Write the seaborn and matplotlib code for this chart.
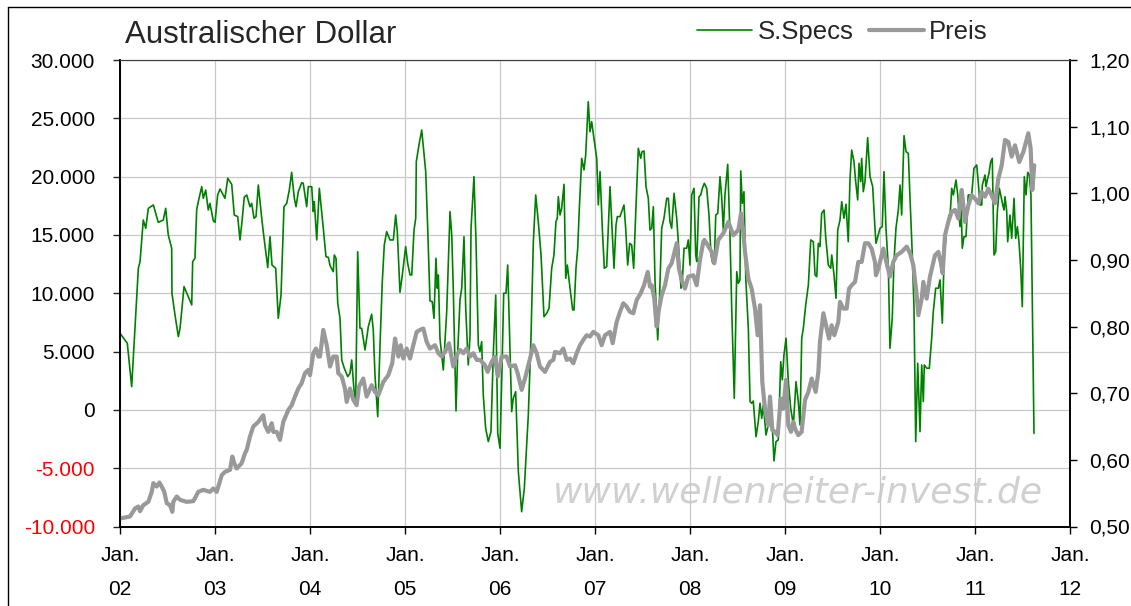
import pandas as pd
import seaborn as sns
import matplotlib.pyplot as plt
from matplotlib.lines import Line2D

# COT small speculators (S.Specs), time in decimal years
spec_t = [2002.000, 2002.077, 2002.123, 2002.193, 2002.211, 2002.245, 2002.271, 2002.298, 2002.351, 2002.403,
          2002.456, 2002.481, 2002.508, 2002.544, 2002.547, 2002.579, 2002.614, 2002.632, 2002.674, 2002.755,
          2002.765, 2002.789, 2002.807, 2002.824, 2002.860, 2002.877, 2002.902, 2002.929, 2002.947, 2002.982,
          2003.000, 2003.028, 2003.053, 2003.105, 2003.134, 2003.176, 2003.203, 2003.239, 2003.263, 2003.284,
          2003.308, 2003.334, 2003.368, 2003.386, 2003.411, 2003.432, 2003.456, 2003.492, 2003.508, 2003.555,
          2003.579, 2003.600, 2003.639, 2003.666, 2003.695, 2003.726, 2003.755, 2003.782, 2003.807, 2003.835,
          2003.853, 2003.877, 2003.913, 2003.929, 2003.965, 2003.982, 2004.018, 2004.035, 2004.045, 2004.071,
          2004.098, 2004.140, 2004.168, 2004.193, 2004.211, 2004.245, 2004.256, 2004.274, 2004.292, 2004.316,
          2004.334, 2004.361, 2004.397, 2004.421, 2004.439, 2004.463, 2004.481, 2004.502, 2004.526, 2004.544,
          2004.579, 2004.614, 2004.649, 2004.666, 2004.684, 2004.713, 2004.737, 2004.761, 2004.782, 2004.807,
          2004.842, 2004.877, 2004.902, 2004.919, 2004.947, 2004.972, 2005.007, 2005.028, 2005.053, 2005.071,
          2005.095, 2005.113, 2005.119, 2005.147, 2005.176, 2005.218, 2005.239, 2005.263, 2005.287, 2005.305,
          2005.326, 2005.340, 2005.351, 2005.368, 2005.403, 2005.439, 2005.474, 2005.492, 2005.508, 2005.537,
          2005.555, 2005.579, 2005.597, 2005.621, 2005.639, 2005.666, 2005.684, 2005.695, 2005.726, 2005.747,
          2005.772, 2005.789, 2005.807, 2005.824, 2005.849, 2005.877, 2005.905, 2005.929, 2005.955, 2005.976,
          2006.000, 2006.021, 2006.039, 2006.063, 2006.081, 2006.105, 2006.123, 2006.140, 2006.165, 2006.193,
          2006.228, 2006.256, 2006.298, 2006.326, 2006.351, 2006.376, 2006.403, 2006.432, 2006.463, 2006.492,
          2006.516, 2006.544, 2006.568, 2006.589, 2006.603, 2006.614, 2006.632, 2006.649, 2006.674, 2006.692,
          2006.709, 2006.737, 2006.765, 2006.779, 2006.800, 2006.818, 2006.835, 2006.860, 2006.884, 2006.902,
          2006.929, 2006.947, 2006.965, 2006.989, 2007.018, 2007.035, 2007.053, 2007.077, 2007.098, 2007.123,
          2007.158, 2007.176, 2007.200, 2007.221, 2007.235, 2007.263, 2007.281, 2007.305, 2007.323, 2007.344,
          2007.365, 2007.386, 2007.407, 2007.428, 2007.456, 2007.481, 2007.495, 2007.516, 2007.537, 2007.561,
          2007.579, 2007.597, 2007.614, 2007.632, 2007.660, 2007.677, 2007.702, 2007.726, 2007.755, 2007.772,
          2007.789, 2007.807, 2007.832, 2007.860, 2007.877, 2007.905, 2007.919, 2007.937, 2007.965, 2007.982,
          2008.000, 2008.018, 2008.042, 2008.060, 2008.071, 2008.095, 2008.113, 2008.130, 2008.151, 2008.176,
          2008.200, 2008.221, 2008.239, 2008.256, 2008.271, 2008.292, 2008.316, 2008.334, 2008.351, 2008.368,
          2008.397, 2008.421, 2008.439, 2008.466, 2008.492, 2008.509, 2008.526, 2008.534, 2008.551, 2008.568,
          2008.587, 2008.614, 2008.632, 2008.649, 2008.666, 2008.695, 2008.719, 2008.737, 2008.755, 2008.772,
          2008.800, 2008.824, 2008.849, 2008.866, 2008.884, 2008.905, 2008.929, 2008.955, 2008.972, 2008.989,
          2009.011, 2009.035, 2009.060, 2009.088, 2009.116, 2009.140, 2009.158, 2009.176, 2009.193, 2009.218,
          2009.246, 2009.271, 2009.298, 2009.316, 2009.334, 2009.351, 2009.368, 2009.386, 2009.411, 2009.428,
          2009.456, 2009.481, 2009.492, 2009.516, 2009.537, 2009.555, 2009.579, 2009.597, 2009.621, 2009.642,
          2009.666, 2009.684, 2009.702, 2009.726, 2009.744, 2009.765, 2009.779, 2009.797, 2009.807, 2009.824,
          2009.842, 2009.870, 2009.895, 2009.923, 2009.947, 2009.958, 2009.982, 2010.000, 2010.024, 2010.042,
          2010.063, 2010.088, 2010.105, 2010.129, 2010.147, 2010.168, 2010.193, 2010.211, 2010.228, 2010.253,
          2010.274, 2010.298, 2010.316, 2010.340, 2010.358, 2010.376, 2010.397, 2010.421, 2010.439, 2010.456,
          2010.466, 2010.492, 2010.519, 2010.544, 2010.561, 2010.586, 2010.614, 2010.632, 2010.656, 2010.674,
          2010.702, 2010.726, 2010.737, 2010.755, 2010.772, 2010.800, 2010.818, 2010.842, 2010.849, 2010.866,
          2010.884, 2010.905, 2010.929, 2010.965, 2010.989, 2011.018, 2011.035, 2011.053, 2011.071, 2011.077,
          2011.105, 2011.116, 2011.130, 2011.147, 2011.165, 2011.182, 2011.200, 2011.218, 2011.235, 2011.256,
          2011.271, 2011.292, 2011.305, 2011.316, 2011.334, 2011.344, 2011.368, 2011.386, 2011.411, 2011.428,
          2011.446, 2011.463, 2011.481, 2011.498, 2011.519, 2011.537, 2011.555, 2011.572, 2011.589, 2011.621]
spec_v = [6570, 5710, 1990, 12140, 12710, 16280, 15570, 17280, 17570, 16080,
          16280, 17280, 15000, 13860, 10000, 8140, 6280, 7000, 10570, 9000,
          12710, 13000, 17140, 17850, 19140, 18140, 18850, 17140, 17710, 16220,
          16080, 18430, 18940, 18140, 19860, 19340, 16710, 16570, 14570, 16140,
          18230, 18430, 17420, 17710, 16430, 16570, 19280, 16430, 15280, 12200,
          14850, 12420, 12140, 7850, 9850, 17420, 17710, 18850, 20370, 18140,
          17420, 18710, 19480, 19430, 17420, 19140, 19140, 17000, 17850, 14570,
          19000, 15570, 13140, 13080, 12370, 11850, 13280, 13000, 9140, 7850,
          4280, 3570, 2850, 3140, 4280, 1710, 710, 13560, 7000, 7000,
          5140, 7140, 8200, 6850, 2990, -580, 5570, 11000, 14140, 15280,
          14570, 14570, 16710, 15280, 10080, 11570, 14000, 12570, 11570, 11570,
          15420, 16430, 21280, 22710, 24000, 20430, 15570, 9340, 9280, 7850,
          13000, 10430, 11570, 6140, 3420, 8420, 17000, 15000, 10430, -90,
          4990, 9430, 10430, 14850, 8710, 3850, 6280, 15570, 20000, 14570,
          5570, 5000, 5850, 1280, -1580, -2720, -1870, 4710, 9850, -2000,
          -3290, 3500, 10000, 10000, 12420, 5280, -150, 990, 1560, -5300,
          -8730, -6720, -440, 6140, 14420, 18430, 16140, 13280, 7990, 8280,
          8710, 12140, 13280, 16140, 16430, 18280, 16710, 17280, 19340, 11280,
          12420, 10430, 8570, 8570, 12140, 13860, 17280, 21570, 20570, 21850,
          26430, 23850, 24710, 23280, 21570, 17570, 20430, 15570, 12140, 12280,
          19140, 16140, 12140, 15850, 16570, 16570, 17000, 17570, 15570, 12420,
          14280, 14140, 12140, 16710, 22430, 21570, 22140, 22200, 19140, 18140,
          15420, 15570, 17420, 10990, 6000, 9000, 15570, 16430, 18140, 18140,
          16140, 15570, 18570, 16430, 14420, 10430, 11000, 13860, 13860, 14570,
          12420, 18430, 19000, 13280, 12710, 18280, 18430, 19000, 19430, 19000,
          16710, 13280, 12570, 12710, 16710, 16850, 20000, 18140, 15420, 18430,
          21060, 15000, 8710, 990, 11850, 10850, 11140, 20490, 17710, 18710,
          11280, 7000, 710, 570, 760, -2300, -1010, 570, -720, 430,
          -2150, -1290, 140, -1300, -4380, -2720, -2580, 4130, 2570, 4710,
          6140, 2420, 140, -1290, 2420, 710, -1290, 6140, 7000, 9000,
          10710, 14570, 14420, 11570, 11420, 14280, 13990, 16860, 17140, 14850,
          12420, 12140, 13280, 11570, 9570, 15420, 16280, 17850, 16430, 17630,
          14420, 19710, 22280, 21280, 19570, 18000, 21140, 19570, 21570, 18710,
          19570, 23340, 20000, 19140, 15570, 14280, 15000, 15570, 15710, 20430,
          15570, 12140, 5280, 7850, 12710, 15570, 17140, 19280, 16710, 23510,
          22140, 22000, 18140, 13280, 8710, -2720, 4000, -1870, 3850, 710,
          3850, 3570, 3570, 6140, 8420, 10430, 10430, 11140, 7430, 12850,
          15570, 16710, 16570, 19000, 18430, 19710, 18430, 15710, 18850, 13860,
          14850, 14850, 18430, 18430, 20710, 21000, 19430, 17570, 17570, 19280,
          20140, 19140, 19710, 20280, 21280, 21570, 13280, 13570, 17000, 19000,
          18430, 17570, 17140, 18280, 16990, 14420, 16710, 14710, 18140, 14710,
          15710, 14420, 12140, 8850, 20000, 18430, 20370, 20140, 18430, -2010]

# AUD/USD price (Preis), time in decimal years
price_t = [2002.000, 2002.105, 2002.158, 2002.193, 2002.211, 2002.245, 2002.298, 2002.334, 2002.351, 2002.386,
           2002.414, 2002.439, 2002.466, 2002.492, 2002.526, 2002.551, 2002.561, 2002.597, 2002.632, 2002.702,
           2002.772, 2002.824, 2002.877, 2002.947, 2002.982, 2003.018, 2003.071, 2003.105, 2003.158, 2003.182,
           2003.203, 2003.228, 2003.281, 2003.316, 2003.334, 2003.368, 2003.403, 2003.456, 2003.508, 2003.526,
           2003.561, 2003.597, 2003.614, 2003.649, 2003.684, 2003.719, 2003.772, 2003.807, 2003.842, 2003.877,
           2003.912, 2003.947, 2003.982, 2004.000, 2004.035, 2004.063, 2004.088, 2004.105, 2004.140, 2004.176,
           2004.211, 2004.245, 2004.281, 2004.298, 2004.334, 2004.368, 2004.386, 2004.421, 2004.456, 2004.491,
           2004.516, 2004.561, 2004.596, 2004.649, 2004.684, 2004.719, 2004.772, 2004.824, 2004.866, 2004.895,
           2004.930, 2004.955, 2004.982, 2005.018, 2005.053, 2005.087, 2005.123, 2005.158, 2005.193, 2005.228,
           2005.263, 2005.316, 2005.351, 2005.386, 2005.421, 2005.463, 2005.508, 2005.544, 2005.579, 2005.614,
           2005.649, 2005.684, 2005.719, 2005.755, 2005.789, 2005.842, 2005.870, 2005.912, 2005.947, 2005.976,
           2006.018, 2006.070, 2006.105, 2006.158, 2006.186, 2006.228, 2006.263, 2006.298, 2006.351, 2006.386,
           2006.421, 2006.474, 2006.526, 2006.561, 2006.579, 2006.632, 2006.666, 2006.702, 2006.737, 2006.772,
           2006.807, 2006.842, 2006.877, 2006.912, 2006.947, 2006.982, 2007.035, 2007.070, 2007.105, 2007.158,
           2007.186, 2007.228, 2007.263, 2007.298, 2007.333, 2007.368, 2007.403, 2007.439, 2007.481, 2007.516,
           2007.555, 2007.579, 2007.597, 2007.624, 2007.649, 2007.674, 2007.702, 2007.737, 2007.772, 2007.807,
           2007.860, 2007.884, 2007.912, 2007.947, 2007.982, 2008.035, 2008.070, 2008.105, 2008.140, 2008.151,
           2008.175, 2008.228, 2008.256, 2008.298, 2008.351, 2008.404, 2008.456, 2008.509, 2008.537, 2008.561,
           2008.579, 2008.614, 2008.649, 2008.684, 2008.712, 2008.737, 2008.761, 2008.789, 2008.824, 2008.842,
           2008.866, 2008.895, 2008.923, 2008.955, 2008.982, 2009.011, 2009.035, 2009.063, 2009.088, 2009.105,
           2009.140, 2009.175, 2009.211, 2009.246, 2009.281, 2009.323, 2009.351, 2009.368, 2009.404, 2009.439,
           2009.463, 2009.491, 2009.519, 2009.561, 2009.579, 2009.614, 2009.649, 2009.674, 2009.702, 2009.737,
           2009.772, 2009.807, 2009.842, 2009.877, 2009.912, 2009.947, 2009.958, 2009.982, 2010.035, 2010.070,
           2010.105, 2010.140, 2010.175, 2010.228, 2010.281, 2010.316, 2010.351, 2010.386, 2010.404, 2010.439,
           2010.456, 2010.491, 2010.526, 2010.579, 2010.614, 2010.639, 2010.660, 2010.684, 2010.719, 2010.754,
           2010.789, 2010.825, 2010.860, 2010.895, 2010.930, 2010.965, 2011.000, 2011.035, 2011.070, 2011.105,
           2011.140, 2011.175, 2011.211, 2011.246, 2011.281, 2011.316, 2011.351, 2011.386, 2011.421, 2011.466,
           2011.509, 2011.561, 2011.586, 2011.603, 2011.624]
price_v = [0.512, 0.515, 0.527, 0.530, 0.523, 0.532, 0.537, 0.552, 0.565, 0.560,
           0.566, 0.560, 0.552, 0.535, 0.532, 0.522, 0.537, 0.545, 0.540, 0.537,
           0.538, 0.552, 0.555, 0.552, 0.557, 0.552, 0.577, 0.582, 0.585, 0.605,
           0.595, 0.587, 0.595, 0.610, 0.615, 0.635, 0.650, 0.657, 0.667, 0.652,
           0.642, 0.655, 0.642, 0.642, 0.630, 0.657, 0.675, 0.682, 0.695, 0.707,
           0.715, 0.730, 0.735, 0.727, 0.760, 0.767, 0.755, 0.755, 0.795, 0.772,
           0.740, 0.755, 0.755, 0.730, 0.725, 0.707, 0.687, 0.707, 0.690, 0.682,
           0.710, 0.722, 0.695, 0.712, 0.702, 0.697, 0.717, 0.727, 0.745, 0.782,
           0.755, 0.772, 0.752, 0.767, 0.752, 0.772, 0.792, 0.795, 0.797, 0.777,
           0.767, 0.772, 0.760, 0.755, 0.762, 0.775, 0.740, 0.757, 0.765, 0.760,
           0.767, 0.755, 0.760, 0.750, 0.750, 0.742, 0.732, 0.747, 0.755, 0.725,
           0.755, 0.755, 0.740, 0.742, 0.730, 0.705, 0.722, 0.742, 0.772, 0.760,
           0.740, 0.732, 0.747, 0.750, 0.762, 0.760, 0.767, 0.750, 0.752, 0.745,
           0.760, 0.772, 0.780, 0.787, 0.785, 0.792, 0.787, 0.772, 0.787, 0.792,
           0.775, 0.807, 0.822, 0.835, 0.830, 0.822, 0.820, 0.840, 0.850, 0.862,
           0.882, 0.860, 0.862, 0.842, 0.800, 0.827, 0.847, 0.862, 0.887, 0.895,
           0.925, 0.887, 0.870, 0.857, 0.875, 0.877, 0.862, 0.900, 0.927, 0.930,
           0.925, 0.912, 0.895, 0.930, 0.940, 0.957, 0.937, 0.945, 0.970, 0.942,
           0.912, 0.872, 0.857, 0.827, 0.787, 0.832, 0.717, 0.677, 0.652, 0.695,
           0.645, 0.642, 0.637, 0.692, 0.677, 0.720, 0.652, 0.642, 0.657, 0.647,
           0.637, 0.642, 0.690, 0.702, 0.722, 0.702, 0.732, 0.777, 0.820, 0.797,
           0.782, 0.802, 0.787, 0.807, 0.837, 0.827, 0.827, 0.857, 0.862, 0.867,
           0.897, 0.897, 0.925, 0.925, 0.917, 0.897, 0.877, 0.887, 0.917, 0.895,
           0.875, 0.897, 0.907, 0.912, 0.920, 0.910, 0.892, 0.847, 0.817, 0.842,
           0.867, 0.842, 0.875, 0.907, 0.912, 0.897, 0.880, 0.937, 0.957, 0.972,
           0.975, 0.962, 1.005, 0.957, 0.982, 0.997, 0.992, 0.985, 1.002, 0.995,
           1.007, 0.997, 0.985, 1.022, 1.042, 1.080, 1.077, 1.055, 1.072, 1.047,
           1.062, 1.090, 1.067, 1.005, 1.042]

years = list(range(2002, 2013))
left_ticks = [-10000, -5000, 0, 5000, 10000, 15000, 20000, 25000, 30000]
right_ticks = [0.5, 0.6, 0.7, 0.8, 0.9, 1.0, 1.1, 1.2]

spec = pd.DataFrame({"t": spec_t, "v": spec_v})
price = pd.DataFrame({"t": price_t, "v": price_v})

sns.set_theme(style="ticks")
plt.rcParams["font.family"] = ["Liberation Sans", "DejaVu Sans"]

W, H = 1131, 606
fig = plt.figure(figsize=(W / 100, H / 100), dpi=100)
ax = fig.add_axes([120 / W, 1 - 526.5 / H, 950 / W, 466.5 / H])
ax2 = ax.twinx()

green = "#008000"
grey = "#999999"

sns.lineplot(data=spec, x="t", y="v", ax=ax, color=green, lw=1.2,
             estimator=None, sort=False, legend=False)
sns.lineplot(data=price, x="t", y="v", ax=ax2, color=grey, lw=3.0,
             estimator=None, sort=False, legend=False)

ax.set_xlim(2002, 2012)
ax.set_ylim(-10000, 30000)
ax2.set_ylim(0.5, 1.2)
for a in (ax, ax2):
    a.set_xlabel("")
    a.set_ylabel("")

ax.set_xticks(years, labels=[f"Jan.\n{y % 100:02d}" for y in years])
for tl in ax.get_xticklabels():
    tl.set_linespacing(2.0)
ax.set_yticks(left_ticks, labels=[f"{v:,}".replace(",", ".") for v in left_ticks])
for tl, v in zip(ax.get_yticklabels(), left_ticks):
    tl.set_color("red" if v < 0 else "black")
ax2.set_yticks(right_ticks, labels=[f"{v:.2f}".replace(".", ",") for v in right_ticks])

ax.grid(True, color="#c8c8c8", lw=0.9)
ax.set_axisbelow(True)
ax.tick_params(axis="x", labelsize=15, length=5, width=1, pad=9, colors="black")
ax.tick_params(axis="y", labelsize=15, length=5, width=1, pad=13)
ax2.tick_params(axis="y", labelsize=15, length=5, width=1, pad=9, colors="black")
for a in (ax, ax2):
    for s in a.spines.values():
        s.set_color("black")
        s.set_linewidth(1.2)
    a.spines["top"].set_color("#404040")
    a.spines["top"].set_linewidth(0.8)

ax.text(0.456, 0.072, "www.wellenreiter-invest.de", transform=ax.transAxes,
        fontsize=26, color="#d0d0d0", style="italic", family="DejaVu Sans",
        ha="left", va="center", zorder=0.2)

fig.text(125 / W, 1 - 35 / H, "Australischer Dollar", fontsize=22.5,
         ha="left", va="center")

handles = [Line2D([], [], color=green, lw=1.2), Line2D([], [], color=grey, lw=3.0)]
fig.legend(handles, ["S.Specs", "Preis"], ncol=2, loc="center left",
           bbox_to_anchor=(697 / W, 1 - 32 / H), frameon=False, fontsize=18.5,
           handlelength=2.15, handletextpad=0.2, columnspacing=0.6,
           borderpad=0, borderaxespad=0)

# outer frame (left and top edges)
fig.add_artist(Line2D([8 / W, 8 / W], [0, 1 - 7 / H], transform=fig.transFigure, color="black", lw=1))
fig.add_artist(Line2D([8 / W, 1], [1 - 7 / H, 1 - 7 / H], transform=fig.transFigure, color="black", lw=1))

fig.savefig("out.png", dpi=100)
